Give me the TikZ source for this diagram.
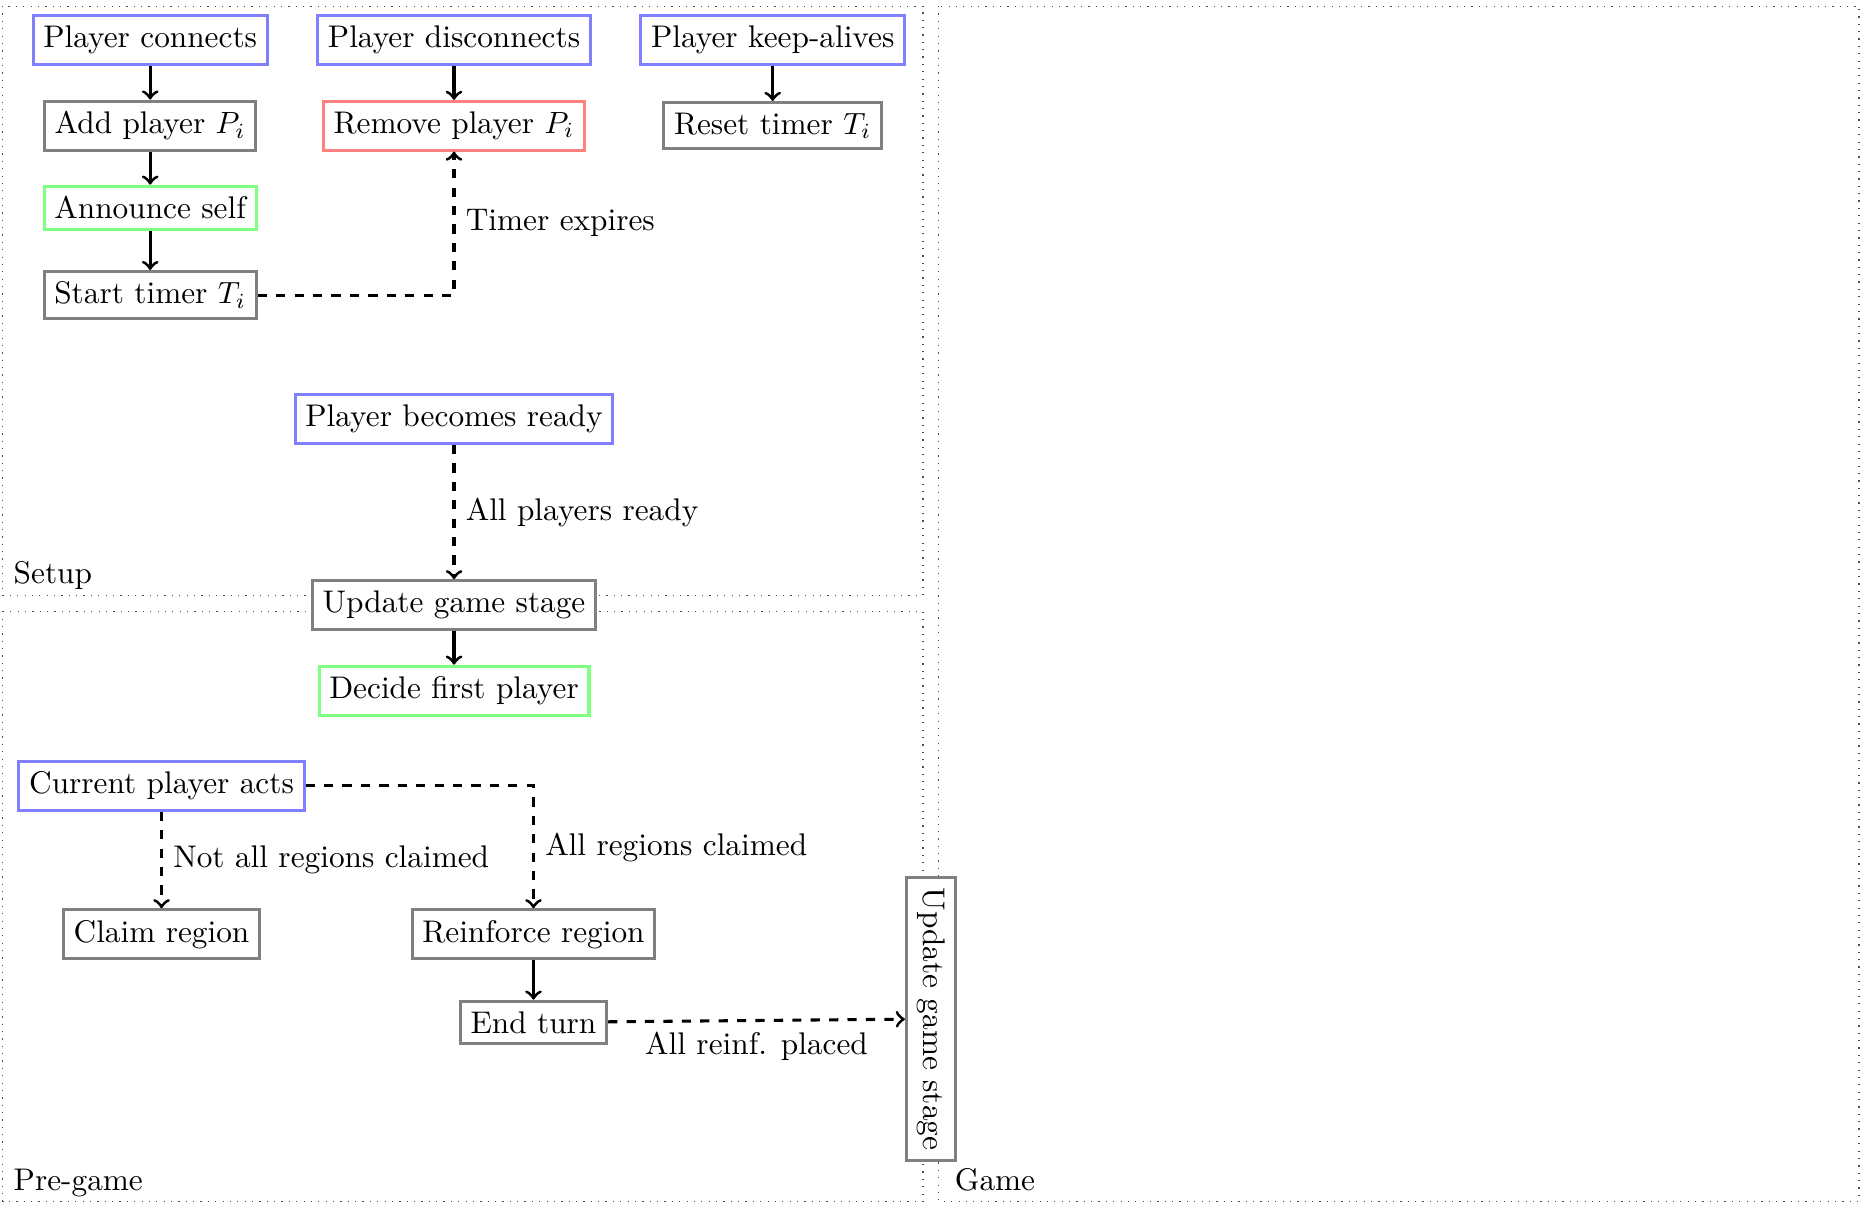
\documentclass[tikz,border=0pt]{standalone}
\begin{document}
\begin{tikzpicture}[
    font=\fontsize{10.2}{12}\selectfont,
    stage/.style={rectangle, draw=gray, fill=white, line width=1pt},
    event/.style={stage, draw=blue!50},
    action/.style={stage, draw=green!50},
    removal/.style={stage, draw=red!50},
    frame/.style={draw=black!70, dotted},
    framelabel/.style={anchor=base west, inner sep=0pt},
    arrow/.style={->, line width=1pt},
    cond/.style={->, line width=1pt, dashed},
]
\useasboundingbox (0,0) rectangle (21.36,-13.79);

% stage frames
\draw[frame] (0.03,-0.07) rectangle (10.57,-6.82);
\draw[frame] (0.03,-7.00) rectangle (10.57,-13.76);
\draw[frame] (10.75,-0.07) rectangle (21.29,-13.76);
\node[framelabel] (setup) at (0.15,-6.68) {Setup};
\node[framelabel] (pregame) at (0.15,-13.64) {Pre-game};
\node[framelabel] (game) at (10.93,-13.64) {Game};

% setup
\node[event] (connect) at (1.72,-0.46) {Player connects};
\node[stage] (addp) at (1.72,-1.44) {Add player $P_i$};
\node[action] (announce) at (1.72,-2.38) {Announce self};
\node[stage] (starttimer) at (1.72,-3.38) {Start timer $T_i$};
\node[event] (disconnect) at (5.20,-0.46) {Player disconnects};
\node[removal] (removep) at (5.20,-1.44) {Remove player $P_i$};
\node[event] (keepalive) at (8.85,-0.46) {Player keep-alives};
\node[stage] (resettimer) at (8.85,-1.44) {Reset timer $T_i$};
\node[event] (ready) at (5.20,-4.80) {Player becomes ready};
\node[stage] (update) at (5.20,-6.93) {Update game stage};

% pre-game
\node[action] (first) at (5.20,-7.91) {Decide first player};
\node[event] (acts) at (1.85,-9.00) {Current player acts};
\node[stage] (claim) at (1.85,-10.70) {Claim region};
\node[stage] (reinforce) at (6.11,-10.70) {Reinforce region};
\node[stage] (endturn) at (6.11,-11.71) {End turn};
\node[stage, rotate=-90] (update2) at (10.66,-11.67) {Update game stage};

\draw[arrow] (connect) -- (addp);
\draw[arrow] (addp) -- (announce);
\draw[arrow] (announce) -- (starttimer);
\draw[arrow] (disconnect) -- (removep);
\draw[arrow] (keepalive) -- (resettimer);
\draw[cond] (starttimer) -| node[pos=0.75, right] {Timer expires} (removep);
\draw[cond] (ready) -- node[right] {All players ready} (update);
\draw[arrow] (update) -- (first);
\draw[cond] (acts) -- node[right] {Not all regions claimed} (claim);
\draw[cond] (acts) -| node[pos=0.75, right] {All regions claimed} (reinforce);
\draw[arrow] (reinforce) -- (endturn);
\draw[cond] (endturn) -- node[below] {All reinf. placed} (update2);
\end{tikzpicture}
\end{document}
